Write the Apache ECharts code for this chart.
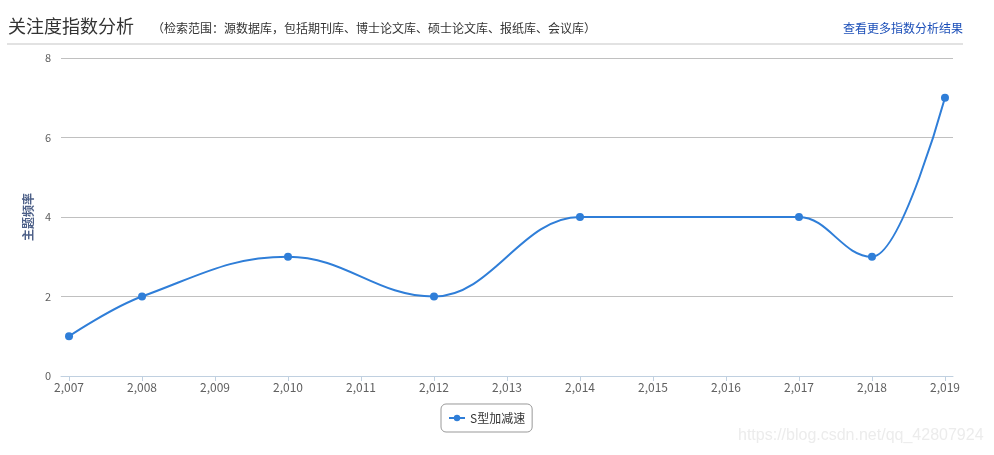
<!DOCTYPE html>
<html><head><meta charset="utf-8">
<script src="https://cdn.jsdelivr.net/npm/echarts@6/dist/echarts.min.js"></script>
<style>html,body{margin:0;padding:0;background:#fff}#c{width:994px;height:455px}</style>
</head><body><div id="c"></div>
<script>
const years = [2007, 2008, 2010, 2012, 2014, 2017, 2018, 2019];
const values = [1, 2, 3, 2, 4, 4, 3, 7];
const tickYears = [2007,2008,2009,2010,2011,2012,2013,2014,2015,2016,2017,2018,2019];
const seriesName = 'S型加减速';
const lineColor = '#2f7ed8';
const font = '"Noto Sans CJK SC", "Noto Sans", sans-serif';

// Spline path (Highcharts-like smoothing) computed from pixel coords given by the axes
function splinePath(pts) {
  const s = 1.5, d = s + 1;
  const rc = [];
  let path = '';
  for (let i = 0; i < pts.length; i++) {
    const [x, y] = pts[i];
    const last = pts[i - 1], next = pts[i + 1];
    let lcx, lcy;
    if (last && next) {
      lcx = (s * x + last[0]) / d; lcy = (s * y + last[1]) / d;
      let rcx = (s * x + next[0]) / d, rcy = (s * y + next[1]) / d;
      let corr = 0;
      if (rcx !== lcx) corr = ((rcy - lcy) * (rcx - x)) / (rcx - lcx) + y - rcy;
      lcy += corr; rcy += corr;
      if (lcy > last[1] && lcy > y) { lcy = Math.max(last[1], y); rcy = 2 * y - lcy; }
      else if (lcy < last[1] && lcy < y) { lcy = Math.min(last[1], y); rcy = 2 * y - lcy; }
      if (rcy > next[1] && rcy > y) { rcy = Math.max(next[1], y); lcy = 2 * y - rcy; }
      else if (rcy < next[1] && rcy < y) { rcy = Math.min(next[1], y); lcy = 2 * y - rcy; }
      rc[i] = [rcx, rcy];
    }
    if (i === 0) { path += 'M' + x + ',' + y; }
    else {
      const p = rc[i - 1] || last;
      const l = (lcx !== undefined) ? [lcx, lcy] : [x, y];
      path += 'C' + p[0] + ',' + p[1] + ',' + l[0] + ',' + l[1] + ',' + x + ',' + y;
    }
  }
  return path;
}

const chart = echarts.init(document.getElementById('c'));
chart.setOption({
  animation: false,
  textStyle: {fontFamily: font},
  graphic: [
    {type: 'text', left: 8, top: 17, style: {text: '关注度指数分析', font: '18px ' + font, fill: '#333'}},
    {type: 'text', left: 152, top: 22, style: {text: '（检索范围：源数据库，包括期刊库、博士论文库、硕士论文库、报纸库、会议库）', font: '12px ' + font, fill: '#333'}},
    {type: 'text', right: 31, top: 22, style: {text: '查看更多指数分析结果', font: '12px ' + font, fill: '#1c4fb8'}},
    {type: 'rect', shape: {x: 7, y: 43, width: 956, height: 2}, style: {fill: '#e2e2e2'}},
    {type: 'text', left: 738, top: 428, style: {text: 'https://blog.csdn.net/qq_42807924', font: '16px Arial, "Liberation Sans", sans-serif', fill: '#ececec'}}
  ],
  grid: {left: 61, right: 41, top: 58, bottom: 79},
  xAxis: {
    type: 'value', min: 2006.89, max: 2019.11,
    axisLine: {show: true, lineStyle: {color: '#c0d0e0'}},
    axisTick: {show: true, customValues: tickYears, length: 5, lineStyle: {color: '#c0d0e0'}},
    axisLabel: {customValues: tickYears, color: '#606060', fontSize: 12, margin: 5,
      formatter: v => String(Math.round(v)).replace(/\B(?=(\d{3})+(?!\d))/g, ',')},
    splitLine: {show: false}
  },
  yAxis: {
    type: 'value', min: 0, max: 8, interval: 2,
    name: '主题频率', nameLocation: 'middle', nameRotate: 90, nameGap: 23,
    nameTextStyle: {color: '#4d6088', fontSize: 12, fontWeight: 'bold'},
    axisLine: {show: false}, axisTick: {show: false},
    axisLabel: {color: '#606060', fontSize: 11, margin: 10},
    splitLine: {lineStyle: {color: '#c0c0c0'}}
  },
  legend: {
    bottom: 23, left: 441, data: [seriesName],
    borderColor: '#999', borderWidth: 1, borderRadius: 5, padding: [8, 7, 8, 7],
    itemWidth: 16, itemHeight: 8,
    lineStyle: {color: lineColor, width: 2, opacity: 1},
    textStyle: {color: '#333', fontSize: 12}
  },
  series: [{
    name: seriesName, type: 'line',
    data: years.map((y, i) => [y, values[i]]),
    symbol: 'circle', symbolSize: 8, z: 3,
    itemStyle: {color: lineColor}, lineStyle: {color: lineColor, width: 2, opacity: 0}
  }, {
    name: seriesName, type: 'custom', z: 2,
    data: years.map((y, i) => [y, values[i]]),
    renderItem: function (params, api) {
      if (params.dataIndex !== 0) return;
      const pts = years.map((y, i) => api.coord([y, values[i]]));
      return {type: 'path', shape: {pathData: splinePath(pts)},
        style: {stroke: lineColor, lineWidth: 2, fill: null}};
    }
  }]
});
</script></body></html>
